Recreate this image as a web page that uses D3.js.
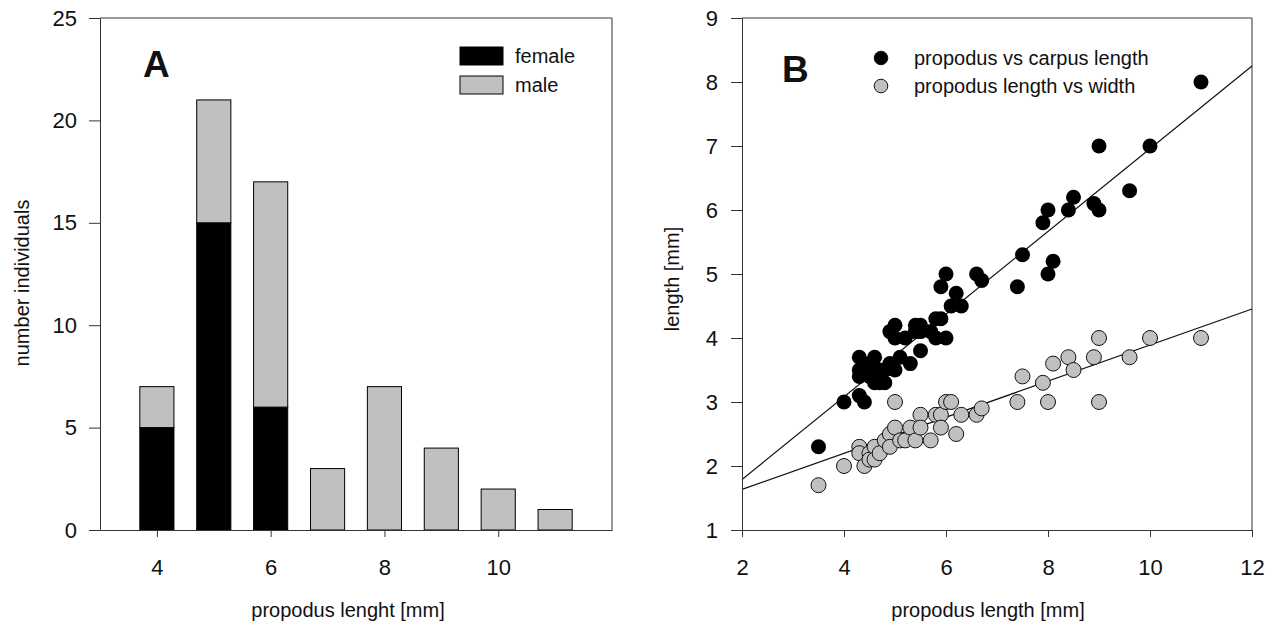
<!DOCTYPE html>
<html>
<head>
<meta charset="utf-8">
<script src="https://cdn.jsdelivr.net/npm/d3@7"></script>
<style>
  body { margin: 0; background: #fff; }
  text { font-family: "Liberation Sans", Arial, sans-serif; fill: #111; }
  .axis path, .axis line { stroke: #333; }
</style>
</head>
<body>
<div id="chart"></div>
<script>
// panel A data
var sizeClasses = [4, 5, 6, 7, 8, 9, 10, 11];
var females = [5, 15, 6, 0, 0, 0, 0, 0];
var males = [2, 6, 11, 3, 7, 4, 2, 1];
var ticksA = [4, 6, 8, 10];
var yTicksA = [0, 5, 10, 15, 20, 25];

// panel B data: [propodus length, value]
var carpus = [[3.5,2.3],[4.0,3.0],[4.3,3.7],[4.3,3.5],[4.3,3.4],[4.3,3.1],[4.4,3.0],[4.4,3.5],
  [4.5,3.4],[4.5,3.6],[4.6,3.7],[4.6,3.3],[4.7,3.3],[4.7,3.5],[4.8,3.3],[4.8,3.5],[4.9,3.6],
  [4.9,4.1],[5.0,4.2],[5.0,4.0],[5.0,3.5],[5.1,3.7],[5.2,4.0],[5.3,3.6],[5.4,4.2],[5.4,4.1],
  [5.5,4.2],[5.5,4.1],[5.5,3.8],[5.7,4.1],[5.8,4.0],[5.8,4.3],[5.9,4.3],[5.9,4.8],[6.0,5.0],
  [6.0,4.0],[6.1,4.5],[6.2,4.7],[6.3,4.5],[6.6,5.0],[6.7,4.9],[7.4,4.8],[7.5,5.3],[7.9,5.8],
  [8.0,6.0],[8.0,5.0],[8.1,5.2],[8.4,6.0],[8.5,6.2],[8.9,6.1],[9.0,6.0],[9.0,7.0],[9.6,6.3],
  [10.0,7.0],[11.0,8.0]];
var width_ = [[3.5,1.7],[4.0,2.0],[4.3,2.3],[4.3,2.2],[4.4,2.0],[4.5,2.2],[4.5,2.1],[4.6,2.3],
  [4.6,2.1],[4.7,2.2],[4.8,2.4],[4.9,2.5],[4.9,2.3],[5.0,3.0],[5.0,2.6],[5.1,2.4],[5.2,2.4],
  [5.3,2.6],[5.4,2.4],[5.5,2.8],[5.5,2.6],[5.7,2.4],[5.8,2.8],[5.9,2.8],[5.9,2.6],[6.0,3.0],
  [6.1,3.0],[6.2,2.5],[6.3,2.8],[6.6,2.8],[6.7,2.9],[7.4,3.0],[7.5,3.4],[7.9,3.3],[8.0,3.0],
  [8.1,3.6],[8.4,3.7],[8.5,3.5],[8.9,3.7],[9.0,4.0],[9.0,3.0],[9.6,3.7],[10.0,4.0],[11.0,4.0]];
// regression lines [intercept, slope]
var fitCarpus = [0.497, 0.646];
var fitWidth = [1.07, 0.282];
var ticksB = [2, 4, 6, 8, 10, 12];
var yTicksB = [1, 2, 3, 4, 5, 6, 7, 8, 9];

var svg = d3.select('#chart').append('svg')
  .attr('width', 1279)
  .attr('height', 628);

var gray = '#c0c0c0';

// ---------- panel A ----------
var xA = d3.scaleLinear().domain([3, 12]).range([100, 612]);
var yA = d3.scaleLinear().domain([0, 25]).range([530, 18]);
var barW = xA(3.6) - xA(3);

var gA = svg.append('g');
gA.append('path')
  .attr('d', 'M' + xA(3) + ',' + yA(25) + 'H' + xA(12) + 'V' + yA(0))
  .attr('fill', 'none').attr('stroke', '#333');

sizeClasses.forEach(function(c, i){
  if (females[i] > 0) {
    gA.append('rect')
      .attr('x', xA(c) - barW / 2).attr('width', barW)
      .attr('y', yA(females[i])).attr('height', yA(0) - yA(females[i]))
      .attr('fill', '#000').attr('stroke', '#000');
  }
  gA.append('rect')
    .attr('x', xA(c) - barW / 2).attr('width', barW)
    .attr('y', yA(females[i] + males[i])).attr('height', yA(females[i]) - yA(females[i] + males[i]))
    .attr('fill', gray).attr('stroke', '#000');
});

gA.append('g').attr('class', 'axis')
  .attr('transform', 'translate(0,' + yA(0) + ')')
  .call(d3.axisBottom(xA).tickValues(ticksA).tickSizeInner(7).tickSizeOuter(0).tickPadding(22))
  .call(function(g){ g.selectAll('text').style('font-size', '22px'); });
gA.append('g').attr('class', 'axis')
  .attr('transform', 'translate(' + xA(3) + ',0)')
  .call(d3.axisLeft(yA).tickValues(yTicksA).tickSizeInner(11).tickSizeOuter(0).tickPadding(12))
  .call(function(g){ g.selectAll('text').style('font-size', '22px'); });

gA.append('text').attr('x', 348).attr('y', 617).attr('text-anchor', 'middle')
  .style('font-size', '20px').text('propodus lenght [mm]');
gA.append('text').attr('transform', 'translate(29,283) rotate(-90)').attr('text-anchor', 'middle')
  .style('font-size', '20px').text('number individuals');
gA.append('text').attr('x', 143).attr('y', 77)
  .style('font-size', '37px').style('font-weight', 'bold').text('A');

// legend A
var legA = [['female', '#000'], ['male', gray]];
legA.forEach(function(d, i){
  gA.append('rect').attr('x', 460).attr('y', 47 + i * 29).attr('width', 43).attr('height', 18)
    .attr('fill', d[1]).attr('stroke', '#000');
  gA.append('text').attr('x', 515).attr('y', 63 + i * 29).style('font-size', '20px').text(d[0]);
});

// ---------- panel B ----------
var xB = d3.scaleLinear().domain([2, 12]).range([742, 1252]);
var yB = d3.scaleLinear().domain([1, 9]).range([530, 18]);

var gB = svg.append('g');
gB.append('path')
  .attr('d', 'M' + xB(2) + ',' + yB(9) + 'H' + xB(12) + 'V' + yB(1))
  .attr('fill', 'none').attr('stroke', '#333');

[fitCarpus, fitWidth].forEach(function(f){
  gB.append('line')
    .attr('x1', xB(2)).attr('y1', yB(f[0] + f[1] * 2))
    .attr('x2', xB(12)).attr('y2', yB(f[0] + f[1] * 12))
    .attr('stroke', '#111').attr('stroke-width', 1.2);
});

gB.selectAll('circle.w').data(width_).enter().append('circle')
  .attr('class', 'w')
  .attr('cx', function(d){ return xB(d[0]); })
  .attr('cy', function(d){ return yB(d[1]); })
  .attr('r', 7.5).attr('fill', gray).attr('stroke', '#111').attr('stroke-width', 1);
gB.selectAll('circle.c').data(carpus).enter().append('circle')
  .attr('class', 'c')
  .attr('cx', function(d){ return xB(d[0]); })
  .attr('cy', function(d){ return yB(d[1]); })
  .attr('r', 7.5).attr('fill', '#000');

gB.append('g').attr('class', 'axis')
  .attr('transform', 'translate(0,' + yB(1) + ')')
  .call(d3.axisBottom(xB).tickValues(ticksB).tickSizeInner(7).tickSizeOuter(0).tickPadding(22))
  .call(function(g){ g.selectAll('text').style('font-size', '22px'); });
gB.append('g').attr('class', 'axis')
  .attr('transform', 'translate(' + xB(2) + ',0)')
  .call(d3.axisLeft(yB).tickValues(yTicksB).tickSizeInner(11).tickSizeOuter(0).tickPadding(13))
  .call(function(g){ g.selectAll('text').style('font-size', '22px'); });

gB.append('text').attr('x', 988).attr('y', 617).attr('text-anchor', 'middle')
  .style('font-size', '20px').text('propodus length [mm]');
gB.append('text').attr('transform', 'translate(679,279) rotate(-90)').attr('text-anchor', 'middle')
  .style('font-size', '20px').text('length [mm]');
gB.append('text').attr('x', 782).attr('y', 82)
  .style('font-size', '37px').style('font-weight', 'bold').text('B');

// legend B
var legB = [['propodus vs carpus length', '#000'], ['propodus length vs width', gray]];
legB.forEach(function(d, i){
  gB.append('circle').attr('cx', 881).attr('cy', 58 + i * 28).attr('r', 6.8)
    .attr('fill', d[1]).attr('stroke', '#111');
  gB.append('text').attr('x', 914).attr('y', 65 + i * 28).style('font-size', '20px').text(d[0]);
});
</script>
</body>
</html>
